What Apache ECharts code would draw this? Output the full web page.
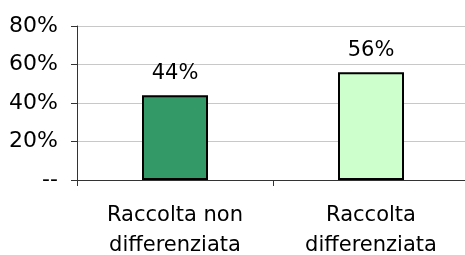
<!doctype html>
<html>
<head>
    <meta charset="utf-8">
    <script src="https://cdn.jsdelivr.net/npm/echarts@6/dist/echarts.min.js"></script>
    <style>body{margin:0;background:#fff;}</style>
</head>
<body>
    <div id="main" style="width:465px;height:255px;"></div>
    <script type="text/javascript">
        var categories = ['Raccolta non\ndifferenziata', 'Raccolta\ndifferenziata'];
        var values = [44, 56];
        var barColors = ['#339966', '#ccffcc'];

        var chart = echarts.init(document.getElementById('main'));
        var font = 'DejaVu Sans';

        var option = {
            animation: false,
            grid: { left: 77, right: -4, top: 26, bottom: 75, containLabel: false, outerBoundsMode: 'none' },
            xAxis: {
                type: 'category',
                data: categories,
                axisLine: { lineStyle: { color: '#333', width: 1 } },
                axisTick: { show: true, length: 6, lineStyle: { color: '#333' } },
                axisLabel: {
                    margin: 21,
                    color: '#000',
                    fontFamily: font,
                    fontSize: 21,
                    lineHeight: 30
                }
            },
            yAxis: {
                type: 'value',
                min: 0,
                max: 80,
                interval: 20,
                axisLine: { show: true, lineStyle: { color: '#333', width: 1 } },
                axisTick: { show: true, length: 6, lineStyle: { color: '#333' } },
                splitLine: { lineStyle: { color: '#c8c8c8', width: 1 } },
                axisLabel: {
                    margin: 19,
                    color: '#000',
                    fontFamily: font,
                    fontSize: 22,
                    formatter: function (v) { return v === 0 ? '--' : v + '%'; }
                }
            },
            series: [{
                type: 'bar',
                barWidth: 66,
                data: values.map(function (v, i) {
                    return {
                        value: v,
                        itemStyle: { color: barColors[i], borderColor: '#000', borderWidth: 2 }
                    };
                }),
                label: {
                    show: true,
                    position: 'top',
                    distance: 11,
                    color: '#000',
                    fontFamily: font,
                    fontSize: 21,
                    formatter: '{c}%'
                }
            }]
        };

        chart.setOption(option);
    </script>
</body>
</html>
